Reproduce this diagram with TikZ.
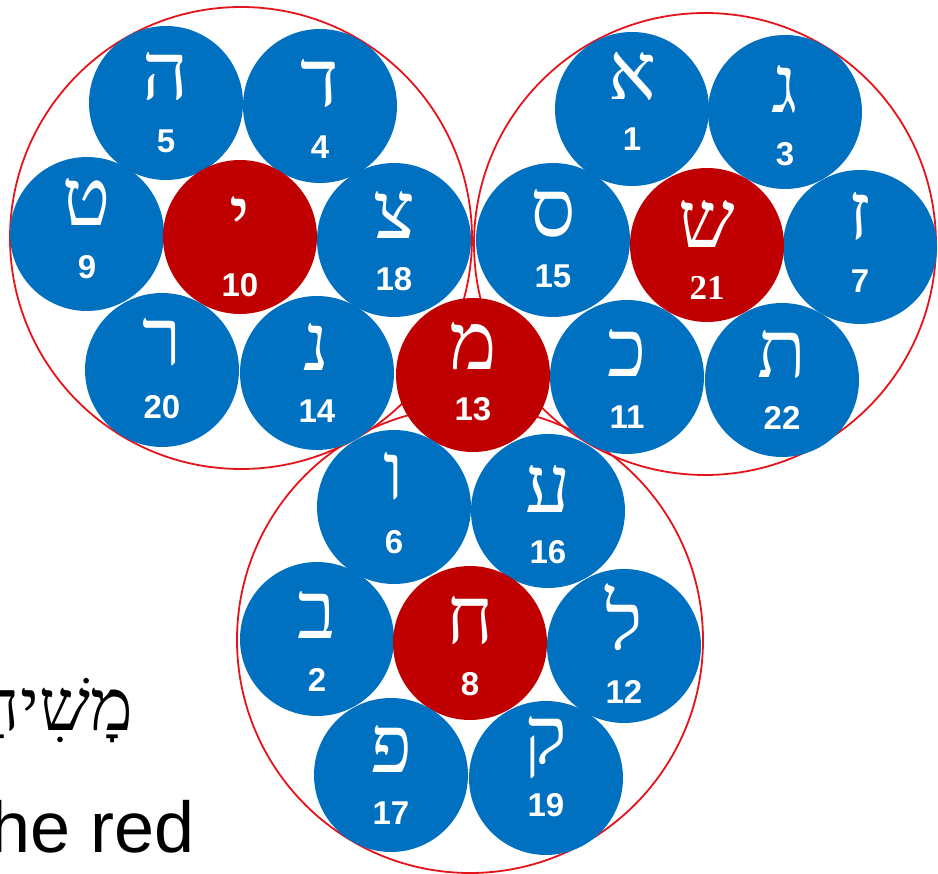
\documentclass[tikz,border=0pt]{standalone}
\usepackage{fontspec}
\setmainfont{Liberation Sans}
\newfontfamily\hebserif[Script=Hebrew]{Liberation Serif}
\newfontfamily\numserif{Liberation Serif}
\TeXXeTstate=1
\usetikzlibrary{calc}
\definecolor{ballblue}{HTML}{0070C0}
\definecolor{ballred}{HTML}{C00000}
\definecolor{ringred}{HTML}{E5141B}

\begin{document}
\begin{tikzpicture}[x=1pt,y=-1pt,
  ball/.style={circle,minimum size=154pt,inner sep=0pt,fill=ballblue},
  core/.style={ball,fill=ballred},
  glyph/.style={text=white,inner sep=0pt,anchor=base,
    font=\hebserif\fontsize{80}{80}\selectfont},
  num/.style={text=white,inner sep=0pt,font=\bfseries\fontsize{33}{33}\selectfont},
  ring/.style={draw=ringred,line width=1.8pt}]
\path[use as bounding box] (0,0) rectangle (938,874);
\clip (0,0) rectangle (938,874);
\fill[white] (0,0) rectangle (938,874);
% the three rings
\draw[ring] (241,238) circle[radius=231];
\draw[ring] (705,244) circle[radius=231];
\draw[ring] (470,640) circle[radius=233];
% letter balls: name/x/y/style/letter/number/letter shift/number shift
\foreach \nm/\x/\y/\sty/\ltr/\n/\dl/\dn in {
  he/166/103/ball/ה/5/-3/38,
  dalet/320/106/ball/ד/4/1/41,
  tet/87/234/ball/ט/9/-8/33,
  yod/240/237/core/י/10/7/48,
  tsadi/394/240/ball/צ/18/-1/39,
  resh/162/370/ball/ר/20/-4/37,
  nun/317/373/ball/נ/14/-2/38,
  mem/473/375/core/מ/13/-5/34,
  alef/632/109/ball/א/1/-9/30,
  gimel/785/112/ball/ג/3/1/42,
  samekh/553/240/ball/ס/15/-3/36,
  zayin/860/247/ball/ז/7/-7/34,
  kaf/627/377/ball/כ/11/0/40,
  tav/782/380/ball/ת/22/-2/38,
  vav/394/507/ball/ו/6/-7/35,
  ayin/548/511/ball/ע/16/2/41,
  bet/317/639/ball/ב/2/-1/41,
  het/470/643/core/ח/8/0/41,
  lamed/624/646/ball/ל/12/3/46,
  pe/391/775/ball/פ/17/-3/38,
  qof/546/778/ball/ק/19/-15/27}
{
  \node[\sty] (\nm) at (\x,\y) {};
  \node[glyph] (\nm-l) at ($(\nm)+(0,\dl)$) {\ltr};
  \node[num] (\nm-n) at ($(\nm)+(0,\dn)$) {\n};
}
% shin has a serif number
\node[core] (shin) at (707,245) {};
\node[glyph] (shin-l) at ($(shin)+(0,3)$) {ש};
\node[num,font=\numserif\bfseries\fontsize{35}{35}\selectfont] (shin-n) at ($(shin)+(0,43)$) {21};
% cut-off text at the left
\node[anchor=base east,inner sep=0pt,font=\hebserif\fontsize{72}{72}\selectfont] (word) at (133,730) {\beginR מָשִׁיחַ\endR};
\node[anchor=base east,inner sep=0pt,font=\fontsize{72}{72}\selectfont] (caption) at (195,852) {the red};
\end{tikzpicture}
\end{document}
